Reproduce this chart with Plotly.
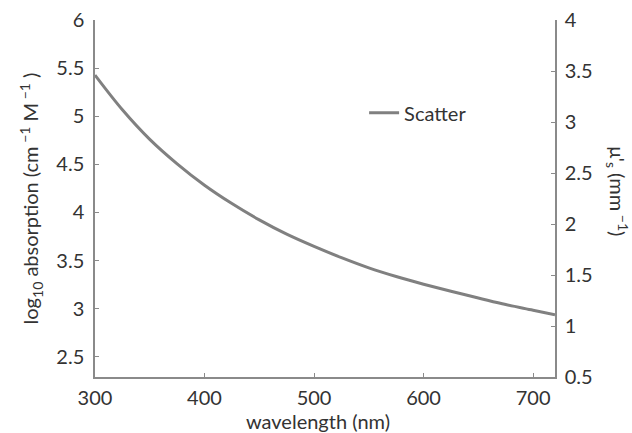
import plotly.graph_objects as go

wavelength = [300, 325, 350, 375, 400, 425, 450, 475, 500, 525, 550, 575, 600, 625, 650, 675, 700, 720]
mu_s = [3.46, 3.12, 2.83, 2.59, 2.38, 2.20, 2.04, 1.90, 1.78, 1.67, 1.57, 1.485, 1.41, 1.34, 1.275, 1.21, 1.155, 1.11]

x_ticks = [300, 400, 500, 600, 700]
y_left_ticks = [2.5, 3, 3.5, 4, 4.5, 5, 5.5, 6]
y_right_ticks = [0.5, 1, 1.5, 2, 2.5, 3, 3.5, 4]

font = "Lato, Open Sans, sans-serif"
axcol = "#8a8a8a"
txtcol = "#333333"
fs = 20

fig = go.Figure()
fig.add_trace(go.Scatter(x=[None], y=[None], yaxis="y", showlegend=False, hoverinfo="skip"))
fig.add_trace(go.Scatter(x=wavelength, y=mu_s, yaxis="y2", mode="lines", name="Scatter",
                         line=dict(color="#808080", width=3, shape="spline")))

common = dict(showgrid=False, zeroline=False, showline=True, linecolor=axcol, linewidth=1.5,
              ticks="inside", ticklen=4, tickcolor=axcol, automargin=False,
              tickfont=dict(family=font, size=fs, color=txtcol))

fig.update_layout(
    width=632, height=433,
    margin=dict(l=95, r=77, t=20, b=56),
    paper_bgcolor="white", plot_bgcolor="white",
    xaxis=dict(range=[300, 720], tickvals=x_ticks, ticklabelstandoff=2, **common),
    yaxis=dict(range=[2.29, 6], tickvals=y_left_ticks, ticktext=[f"{v:g}" for v in y_left_ticks],
               ticklabelstandoff=5, **common,
               title=dict(text="log<sub>10</sub> absorption (cm<sup> −1</sup> M<sup> −1</sup> )",
                          font=dict(family=font, size=fs, color=txtcol), standoff=12)),
    yaxis2=dict(range=[0.5, 4], tickvals=y_right_ticks, ticktext=[f"{v:g}" for v in y_right_ticks],
                overlaying="y", side="right", ticklabelstandoff=4, **common),
    legend=dict(x=0.585, y=0.74, xanchor="left", yanchor="middle", bgcolor="rgba(0,0,0,0)",
                font=dict(family=font, size=fs, color=txtcol)),
    annotations=[
        dict(text="μ'<sub>s</sub> (mm<sup> −1</sup>)", textangle=90, xref="paper", yref="paper",
             x=1.135, y=0.52, xanchor="center", yanchor="middle", showarrow=False,
             font=dict(family=font, size=fs, color=txtcol)),
        dict(text="wavelength (nm)", xref="paper", yref="paper", x=0.485, y=-0.122,
             xanchor="center", yanchor="middle", showarrow=False,
             font=dict(family=font, size=fs, color=txtcol)),
    ],
)

fig.write_html("out.html")
